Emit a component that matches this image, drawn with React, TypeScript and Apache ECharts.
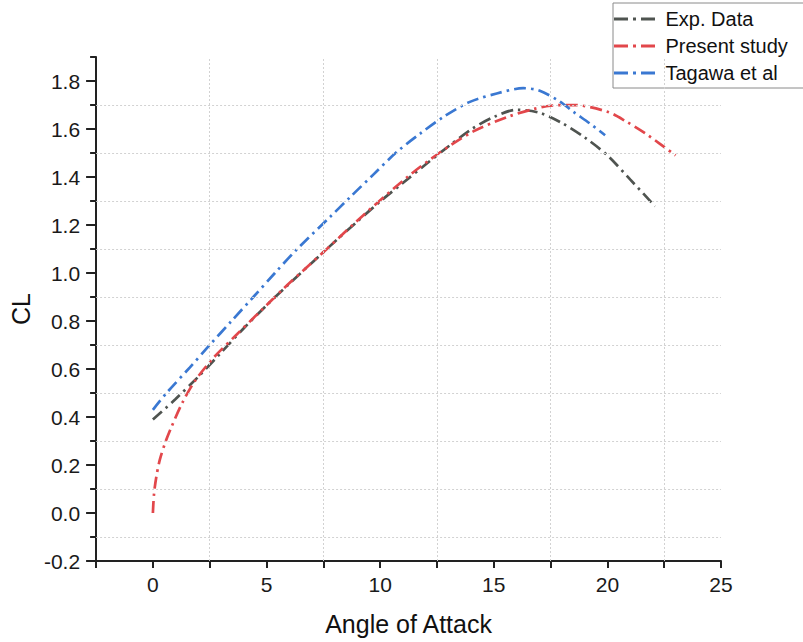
import React, { useEffect, useRef } from "react";
import * as echarts from "echarts";

// Lift coefficient versus angle of attack for the three data sets
const expAoa = [0, 1, 2, 3, 4, 5, 6, 7, 8, 9, 10, 11, 12, 13, 14, 15, 16, 17, 18, 19, 20, 21, 22.1];
const expCl = [0.39, 0.475, 0.568, 0.668, 0.77, 0.865, 0.955, 1.043, 1.13, 1.215, 1.298, 1.375, 1.452, 1.527, 1.598, 1.65, 1.68, 1.668, 1.625, 1.565, 1.49, 1.39, 1.278];

const presentAoa = [0, 0.05, 0.15, 0.3, 0.55, 0.8, 1.3, 1.85, 2.65, 3.7, 4.7, 5.75, 6.75, 7.8, 9.25, 11.2, 12.6, 14.1, 15.6, 16.75, 17.5, 18.5, 20, 20.85, 21.7, 23];
const presentCl = [0.0, 0.08, 0.15, 0.22, 0.295, 0.355, 0.46, 0.55, 0.645, 0.745, 0.838, 0.935, 1.022, 1.113, 1.24, 1.4, 1.5, 1.59, 1.65, 1.683, 1.697, 1.7, 1.672, 1.63, 1.58, 1.49];

const tagawaAoa = [0, 0.6, 1.63, 2.5, 3.46, 4.42, 5.37, 6.32, 7.79, 8.7, 9.7, 10.73, 11.75, 12.78, 13.95, 15.13, 16.3, 17.0, 17.9, 18.5, 19.23, 19.9];
const tagawaCl = [0.43, 0.5, 0.607, 0.7, 0.8, 0.9, 1.0, 1.097, 1.233, 1.318, 1.41, 1.504, 1.58, 1.65, 1.713, 1.748, 1.77, 1.76, 1.715, 1.672, 1.623, 1.574];

const seriesNames = ["Exp. Data", "Present study", "Tagawa et al"];
const seriesColors = ["#4f5450", "#e2474b", "#3a78d2"];

// Dotted guide lines sit halfway between the labelled ticks
const gridAoa = [2.5, 7.5, 12.5, 17.5, 22.5];
const gridCl = [-0.1, 0.1, 0.3, 0.5, 0.7, 0.9, 1.1, 1.3, 1.5, 1.7];
const majorCl = [-0.2, 0, 0.2, 0.4, 0.6, 0.8, 1.0, 1.2, 1.4, 1.6, 1.8];

const FONT = "'Liberation Sans', Arial, sans-serif";

// dash, dot, dash key drawn in the legend
const LEGEND_ICON = "path://M0,0h14v3h-14z M19,0h3v3h-3z M27,0h14v3h-14z";

const zip = (xs: number[], ys: number[]) => xs.map((x, i) => [x, ys[i]]);

export default function App() {
  const ref = useRef<HTMLDivElement>(null);

  useEffect(() => {
    document.body.style.margin = "0";
    if (!ref.current) return;
    const chart = echarts.init(ref.current, null, { renderer: "svg" });

    const dash = [12, 5, 2.5, 5];
    const curve = (i: number, data: number[][]) => ({
      type: "line",
      name: seriesNames[i],
      data,
      symbol: "none",
      showSymbol: false,
      smooth: 0.3,
      z: 3,
      itemStyle: { color: seriesColors[i] },
      lineStyle: { color: seriesColors[i], width: 2.7, type: dash },
    });

    const axisText = { fontFamily: FONT, fontSize: 21, color: "#1a1a1a" };

    chart.setOption({
      animation: false,
      backgroundColor: "#ffffff",
      grid: { left: 96, right: 82, top: 57, bottom: 81, containLabel: false },
      legend: {
        data: seriesNames.map((name) => ({ name, icon: LEGEND_ICON })),
        orient: "vertical",
        left: 613,
        top: 3,
        padding: [6, 40, 5, 1],
        itemGap: 7,
        itemWidth: 52,
        itemHeight: 3,
        borderColor: "#8a8a8a",
        borderWidth: 1,
        textStyle: { fontFamily: FONT, fontSize: 20, color: "#111", lineHeight: 20 },
      },
      xAxis: {
        type: "value",
        min: -2.5,
        max: 25,
        interval: 2.5,
        name: "Angle of Attack",
        nameLocation: "middle",
        nameGap: 50,
        nameTextStyle: { fontFamily: FONT, fontSize: 25, color: "#111" },
        axisLine: { show: true, onZero: false, lineStyle: { color: "#222", width: 2 } },
        axisTick: { show: true, length: 7, lineStyle: { color: "#222", width: 2 } },
        axisLabel: {
          ...axisText,
          margin: 13,
          formatter: (v: number) => (v >= 0 && Math.abs(v % 5) < 1e-6 ? String(v) : ""),
        },
        splitLine: { show: false },
      },
      yAxis: [
        {
          type: "value",
          min: -0.2,
          max: 1.9,
          interval: 0.1,
          name: "CL",
          nameLocation: "middle",
          nameGap: 58,
          nameTextStyle: { fontFamily: FONT, fontSize: 25, color: "#111" },
          axisLine: { show: true, onZero: false, lineStyle: { color: "#222", width: 2 } },
          axisTick: { show: true, length: 6, lineStyle: { color: "#222", width: 2 } },
          axisLabel: {
            ...axisText,
            margin: 16,
            formatter: (v: number) => {
              const k = Math.round(v * 10);
              return k % 2 === 0 && k <= 18 ? (k / 10).toFixed(1) : "";
            },
          },
          splitLine: { show: false },
        },
        {
          // longer ticks at the labelled values
          type: "value",
          min: -0.2,
          max: 1.9,
          interval: 0.2,
          position: "left",
          axisLine: { show: false, onZero: false },
          axisTick: { show: true, length: 10, lineStyle: { color: "#222", width: 2 }, customValues: majorCl },
          axisLabel: { show: false },
          splitLine: { show: false },
        },
      ],
      series: [
        {
          type: "line",
          name: "grid",
          data: [],
          z: 1,
          silent: true,
          markLine: {
            silent: true,
            symbol: "none",
            label: { show: false },
            emphasis: { disabled: true },
            lineStyle: { color: "#d2d2d2", width: 1, type: [2, 2] },
            data: [
              ...gridCl.map((v) => ({ yAxis: v })),
              ...gridAoa.map((v) => ({ xAxis: v })),
            ],
          },
        },
        curve(0, zip(expAoa, expCl)),
        curve(1, zip(presentAoa, presentCl)),
        curve(2, zip(tagawaAoa, tagawaCl)),
      ],
    });

    return () => chart.dispose();
  }, []);

  return <div ref={ref} style={{ width: 803, height: 642 }} />;
}
